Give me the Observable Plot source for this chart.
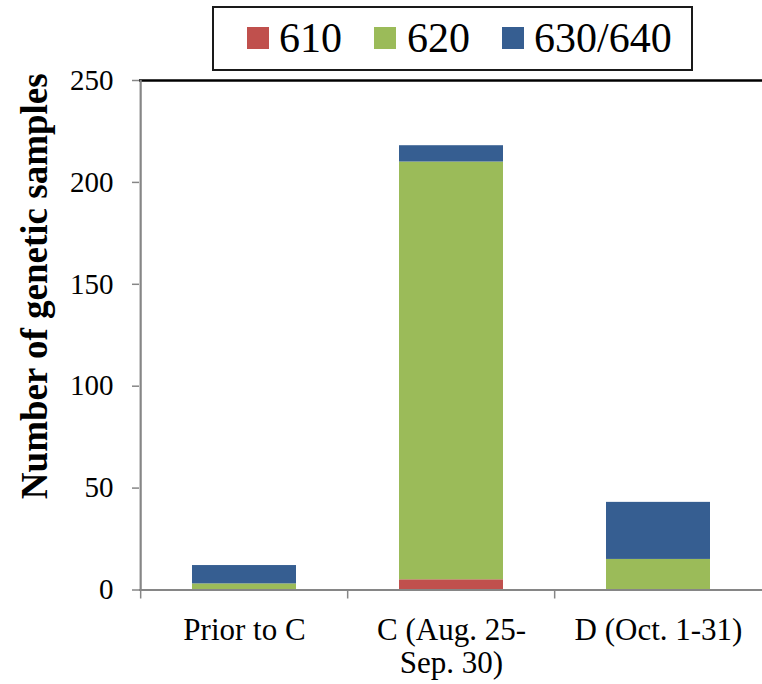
<!DOCTYPE html>
<html>
<head>
<meta charset="utf-8">
<script src="https://cdn.jsdelivr.net/npm/d3@7"></script>
<script src="https://cdn.jsdelivr.net/npm/@observablehq/plot@0.6"></script>
<style>
  html, body { margin: 0; padding: 0; background: #fff; }
  #wrap { position: relative; width: 762px; height: 684px; font-family: "Liberation Serif", "Times New Roman", serif; }
  #legend { position: absolute; left: 212px; top: 6px; width: 477px; height: 61px; border: 2px solid #1a1a1a; background: #fff; }
  .sw { position: absolute; top: 19px; width: 22px; height: 22px; }
  .lt { position: absolute; top: 9px; font-family: "Liberation Serif", "Times New Roman", serif; font-size: 42px; line-height: 42px; color: #000; white-space: nowrap; }
</style>
</head>
<body>
<div id="wrap"></div>
<script>
const categories = ["Prior to C", "C (Aug. 25-\nSep. 30)", "D (Oct. 1-31)"];
const series = ["610", "620", "630/640"];
const values610 = [0, 5, 0];
const values620 = [3, 205, 15];
const values630 = [9, 8, 28];
const colors = ["#C0504D", "#9BBB59", "#365E91"];
const yTicks = [0, 50, 100, 150, 200, 250];

const seriesValues = [values610, values620, values630];
const data = [];
series.forEach((s, si) => {
  categories.forEach((c, ci) => data.push({category: c, series: s, value: seriesValues[si][ci]}));
});

const W = 762, H = 684, mL = 139, mR = 0;
const halfBand = (W - mL - mR) / categories.length / 2;
const axisColor = "#868686";
const font = "Liberation Serif, Times New Roman, serif";

const chart = Plot.plot({
  width: W,
  height: H,
  marginTop: 80,
  marginBottom: 94.5,
  marginLeft: mL,
  marginRight: mR,
  style: {fontFamily: font, background: "#fff", color: "#000", overflow: "visible"},
  x: {domain: categories, paddingInner: 0.5, paddingOuter: 0.25, label: null},
  y: {domain: [0, 250], label: null},
  color: {domain: series, range: colors},
  marks: [
    Plot.barY(data, {x: "category", y: "value", fill: "series"}),
    Plot.ruleY([250], {stroke: "#000", strokeWidth: 2.5}),
    Plot.ruleY([0], {stroke: axisColor, strokeWidth: 2.2}),
    Plot.ruleX([categories[0]], {y1: 0, y2: 250, dx: -halfBand, stroke: axisColor, strokeWidth: 2.2}),
    Plot.axisY({ticks: yTicks, tickSize: 7, tickPadding: 19, fontSize: 29, stroke: axisColor, strokeWidth: 1.5, label: null, tickFormat: d => String(d)}),
    Plot.axisX({tickSize: 9, dx: -halfBand, tickFormat: () => "", stroke: axisColor, strokeWidth: 1.5, label: null}),
    Plot.axisX({tickSize: 0, tickPadding: 26, fontSize: 31, lineHeight: 1.08, label: null}),
    Plot.text(["Number of genetic samples"], {frameAnchor: "left", textAnchor: "middle", rotate: -90, dx: -104, dy: -49, fontSize: 37, fontWeight: "bold", fill: "#000"})
  ]
});

const wrap = document.getElementById("wrap");
wrap.appendChild(chart);

const legend = document.createElement("div");
legend.id = "legend";
const swLeft = [33, 160, 288];
const txLeft = [65, 193, 320];
series.forEach((s, i) => {
  const sw = document.createElement("div");
  sw.className = "sw";
  sw.style.left = swLeft[i] + "px";
  sw.style.background = colors[i];
  legend.appendChild(sw);
  const t = document.createElement("div");
  t.className = "lt";
  t.style.left = txLeft[i] + "px";
  t.textContent = s;
  legend.appendChild(t);
});
wrap.appendChild(legend);
</script>
</body>
</html>
